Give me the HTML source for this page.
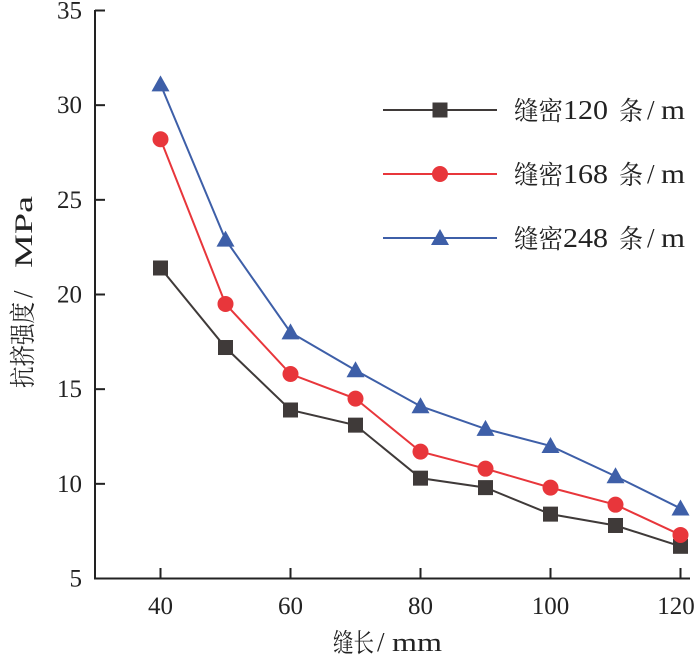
<!DOCTYPE html>
<html><head><meta charset="utf-8"><style>
body{margin:0;background:#fff;}
svg text{font-family:"Liberation Serif","Noto Serif CJK SC",serif;font-size:25px;fill:#222;}
.cjk{font-size:26px;}
</style></head><body>
<svg id="chart" width="700" height="659" viewBox="0 0 700 659">
<g id="axes"></g><g id="series"></g><g id="legend"></g>
<g>
<text class="cjk" x="333" y="652" textLength="41" lengthAdjust="spacingAndGlyphs">缝长</text>
<text x="377" y="651" style="font-size:27px">/</text>
<text x="392" y="651" textLength="50" lengthAdjust="spacingAndGlyphs" style="font-size:26px">mm</text>
</g>
<g>
<text class="cjk" transform="translate(32,388) rotate(-90)" textLength="86" lengthAdjust="spacingAndGlyphs">抗挤强度</text>
<text transform="translate(32,298) rotate(-90)" style="font-size:27px">/</text>
<text transform="translate(32,268) rotate(-90)" textLength="72" lengthAdjust="spacingAndGlyphs" style="font-size:25px">MPa</text>
</g>
</svg>
<script>
const categories=[40,50,60,70,80,90,100,110,120];
const s120=[21.4,17.2,13.9,13.1,10.3,9.8,8.4,7.8,6.7];
const s168=[28.2,19.5,15.8,14.5,11.7,10.8,9.8,8.9,7.3];
const s248=[31.1,22.9,18.0,16.0,14.1,12.9,12.0,10.4,8.7];
const seriesNums=["120","168","248"];
const yTicks=[5,10,15,20,25,30,35];
const xTicks=[40,60,80,100,120];
const NS="http://www.w3.org/2000/svg";
const X=v=>160.5+(v-40)*6.5, Y=v=>578.5-(v-5)*(568/30);
function mk(t,a,p){const e=document.createElementNS(NS,t);for(const k in a)e.setAttribute(k,a[k]);p.appendChild(e);return e;}
const ax=document.getElementById('axes');
let l=mk('path',{d:'M95,10V578.5H690',fill:'none',stroke:'#222','stroke-width':2},ax);


yTicks.forEach(v=>{const y=Y(v);
 let t=mk('line',{x1:95,x2:105,y1:y,y2:y,stroke:'#222','stroke-width':2},ax);
 
 
 let tx=mk('text',{x:82,y:y+8,'text-anchor':'end'},ax);tx.textContent=v;
 
 });
xTicks.forEach(v=>{const x=X(v);
 let t=mk('line',{x1:x,x2:x,y1:568,y2:578.5,stroke:'#222','stroke-width':2},ax);
 
 
 let tx=mk('text',{x:Math.min(x,676),y:614,'text-anchor':'middle'},ax);tx.textContent=v;
 
 });
const cols=['#3f3a39','#e8363b','#3e5fa8'];
const sg=document.getElementById('series'), lg=document.getElementById('legend');
function marker(k,x,y,c,p){
 if(k===0)return mk('rect',{x:x-7.5,y:y-7.5,width:15,height:15,fill:c},p);
 if(k===1)return mk('circle',{cx:x,cy:y,r:8,fill:c},p);
 return mk('path',{d:`M${x},${y-9}L${x+9},${y+7}L${x-9},${y+7}Z`,fill:c},p);}
[s120,s168,s248].forEach((d,k)=>{
 const g=mk('g',{},sg);
 
 
 const pl=mk('polyline',{points:d.map((v,i)=>X(categories[i])+','+Y(v)).join(' '),fill:'none',stroke:cols[k],'stroke-width':2},g);
 
 
 d.forEach((v,i)=>{const m=marker(k,X(categories[i]),Y(v),cols[k],g);
  
  });
 const ly=110+k*64;
 const e=mk('g',{},lg);
 
 
 mk('line',{x1:383,x2:497,y1:ly,y2:ly,stroke:cols[k],'stroke-width':2},e);
 marker(k,440,ly,cols[k],e);
 const by=ly+9;
 let t=mk('text',{x:514,y:by+1,class:'cjk',textLength:49,lengthAdjust:'spacingAndGlyphs'},e);t.textContent='缝密';
 t=mk('text',{x:563,y:by,textLength:45,lengthAdjust:'spacingAndGlyphs','style':'font-size:27px'},e);t.textContent=seriesNums[k];
 t=mk('text',{x:619,y:by+1,class:'cjk',textLength:24,lengthAdjust:'spacingAndGlyphs'},e);t.textContent='条';
 t=mk('text',{x:647,y:by,'style':'font-size:27px'},e);t.textContent='/';
 t=mk('text',{x:661,y:by,textLength:24,lengthAdjust:'spacingAndGlyphs','style':'font-size:27px'},e);t.textContent='m';
});
</script>
</body></html>
